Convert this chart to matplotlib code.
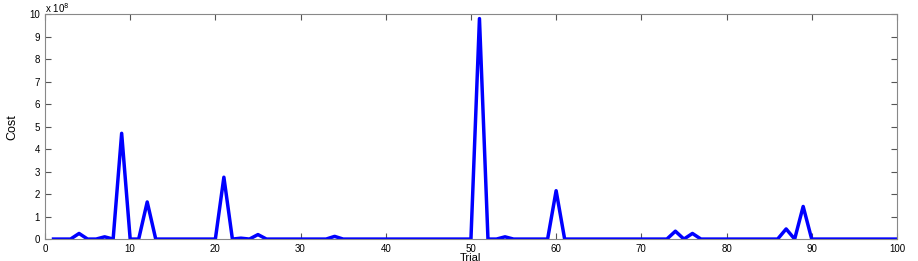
import matplotlib
matplotlib.use("Agg")
import matplotlib.pyplot as plt
import numpy as np

plt.rcParams['font.family'] = ['Liberation Sans', 'DejaVu Sans']

# trial number 1..100, cost per trial (units of 1e8), zero elsewhere
trials = np.arange(1, 101)
peak_trials = [4, 7, 9, 12, 21, 23, 25, 34, 51, 54, 60, 74, 76, 87, 89]
peak_costs = [0.25, 0.1, 4.7, 1.65, 2.75, 0.04, 0.2, 0.12, 9.8, 0.1, 2.15, 0.35, 0.25, 0.45, 1.45]

cost = np.zeros(len(trials))
for t, c in zip(peak_trials, peak_costs):
    cost[t - 1] = c

fig = plt.figure(figsize=(9.18, 2.61), dpi=100)
ax = fig.add_axes([0.049, 0.084, 0.928, 0.862])
ax.plot(trials, cost, color='#0000ff', linewidth=2.5)

ax.set_xlim(0, 100)
ax.set_ylim(0, 10)
ax.set_xticks(np.arange(0, 101, 10))
ax.set_yticks(np.arange(0, 11))

ax.tick_params(direction='in', labelsize=7, length=4, width=0.8,
               top=True, right=True, colors='#555555', labelcolor='black')
for s in ax.spines.values():
    s.set_color('#888888')
    s.set_linewidth(0.8)

# scale factor label, MATLAB style
fig.text(0.049, 0.995, r'x 10$^8$', fontsize=7, ha='left', va='top')

ax.set_xlabel('Trial', fontsize=8, labelpad=-1)
ax.set_ylabel('Cost', fontsize=9, labelpad=8)

fig.savefig('out.png', dpi=100)
